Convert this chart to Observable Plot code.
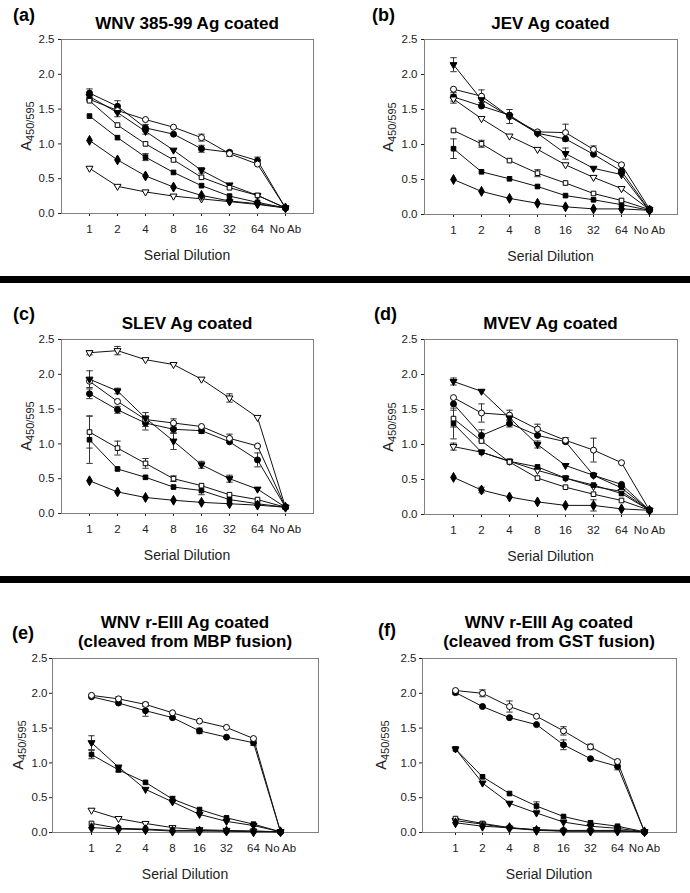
<!DOCTYPE html>
<html><head><meta charset="utf-8">
<script src="https://cdn.jsdelivr.net/npm/d3@7"></script>
<script src="https://cdn.jsdelivr.net/npm/@observablehq/plot@0.6"></script>
<style>
body{margin:0;background:#fff;}
#page{position:relative;width:690px;height:893px;overflow:hidden;font-family:"Liberation Sans",Arial,sans-serif;color:#000;}
#page svg{position:absolute;overflow:visible;}
.abs{position:absolute;white-space:nowrap;}
.title{font-weight:bold;font-size:17px;line-height:19px;text-align:center;transform:translateX(-50%);}
.plabel{font-weight:bold;font-size:18px;line-height:1;}
.xlab{font-size:14px;line-height:1;transform:translate(-50%,-50%);color:#222;}
.ylab{font-size:14.5px;line-height:1;transform:translate(-50%,-50%) rotate(-90deg);color:#222;}
.ylab sub{font-size:11px;vertical-align:baseline;position:relative;top:3px;}
.sep{position:absolute;left:0;width:690px;height:7px;background:#000;}
</style></head><body><div id="page"></div>
<script>
// ---------- data ----------
const dilutions = ["1","2","4","8","16","32","64","No Ab"];
const seriesKeys = ["fc","oc","ft","ot","fs","os","fd"];
const yTicks = [0, 0.5, 1.0, 1.5, 2.0, 2.5];

const panelA = [
  [1.73, 1.54, 1.23, 1.14, 0.93, 0.88, 0.76, 0.08],
  [1.64, 1.48, 1.35, 1.24, 1.09, 0.86, 0.71, 0.08],
  [1.68, 1.45, 1.18, 0.91, 0.62, 0.41, 0.26, 0.08],
  [0.65, 0.39, 0.31, 0.25, 0.21, 0.17, 0.13, 0.08],
  [1.40, 1.09, 0.81, 0.59, 0.40, 0.25, 0.16, 0.08],
  [1.62, 1.27, 1.00, 0.77, 0.52, 0.37, 0.26, 0.08],
  [1.05, 0.77, 0.54, 0.38, 0.26, 0.18, 0.14, 0.08]
];
const panelB = [
  [1.68, 1.55, 1.42, 1.16, 1.08, 0.86, 0.62, 0.06],
  [1.79, 1.69, 1.40, 1.18, 1.17, 0.93, 0.71, 0.08],
  [2.14, 1.64, 1.40, 1.16, 0.87, 0.66, 0.57, 0.05],
  [1.65, 1.37, 1.12, 0.93, 0.71, 0.53, 0.37, 0.07],
  [0.94, 0.61, 0.51, 0.40, 0.27, 0.21, 0.14, 0.06],
  [1.20, 1.01, 0.77, 0.59, 0.45, 0.30, 0.20, 0.07],
  [0.50, 0.33, 0.23, 0.16, 0.11, 0.08, 0.08, 0.06]
];
const panelC = [
  [1.72, 1.49, 1.30, 1.21, 1.19, 1.03, 0.77, 0.09],
  [1.90, 1.61, 1.35, 1.30, 1.25, 1.08, 0.97, 0.09],
  [1.93, 1.76, 1.37, 1.04, 0.70, 0.50, 0.35, 0.09],
  [2.31, 2.34, 2.21, 2.14, 1.93, 1.66, 1.38, 0.09],
  [1.06, 0.64, 0.52, 0.38, 0.33, 0.20, 0.14, 0.09],
  [1.17, 0.94, 0.72, 0.50, 0.40, 0.27, 0.20, 0.09],
  [0.47, 0.31, 0.23, 0.19, 0.16, 0.14, 0.12, 0.09]
];
const panelD = [
  [1.58, 1.13, 1.30, 1.13, 1.04, 0.56, 0.43, 0.06],
  [1.67, 1.45, 1.42, 1.22, 1.06, 0.92, 0.74, 0.06],
  [1.90, 1.76, 1.38, 1.00, 0.70, 0.56, 0.38, 0.06],
  [0.97, 0.89, 0.76, 0.63, 0.52, 0.40, 0.33, 0.06],
  [1.30, 0.89, 0.76, 0.68, 0.52, 0.42, 0.30, 0.06],
  [1.37, 1.05, 0.75, 0.52, 0.39, 0.29, 0.20, 0.06],
  [0.53, 0.35, 0.25, 0.18, 0.13, 0.13, 0.08, 0.06]
];
const panelE = [
  [1.95, 1.86, 1.75, 1.65, 1.46, 1.37, 1.29, 0.01],
  [1.97, 1.92, 1.84, 1.72, 1.60, 1.51, 1.35, 0.01],
  [1.29, 0.94, 0.62, 0.44, 0.26, 0.16, 0.10, 0.01],
  [0.32, 0.20, 0.13, 0.07, 0.04, 0.03, 0.02, 0.01],
  [1.12, 0.90, 0.72, 0.48, 0.33, 0.21, 0.12, 0.01],
  [0.13, 0.06, 0.05, 0.03, 0.03, 0.02, 0.02, 0.01],
  [0.07, 0.05, 0.04, 0.02, 0.02, 0.02, 0.01, 0.01]
];
const panelF = [
  [2.01, 1.81, 1.65, 1.55, 1.26, 1.06, 0.95, 0.01],
  [2.04, 2.00, 1.81, 1.67, 1.46, 1.23, 1.02, 0.01],
  [1.20, 0.71, 0.42, 0.28, 0.15, 0.09, 0.06, 0.01],
  [0.17, 0.12, 0.06, 0.04, 0.02, 0.02, 0.02, 0.01],
  [1.20, 0.80, 0.56, 0.38, 0.23, 0.14, 0.09, 0.01],
  [0.20, 0.13, 0.07, 0.04, 0.03, 0.03, 0.03, 0.01],
  [0.14, 0.09, 0.07, 0.03, 0.02, 0.02, 0.02, 0.01]
];

// error bars: [series, dilution index, +/- error]
const errA = [["fc",0,0.06],["fc",1,0.08],["fc",2,0.05],["fc",4,0.05],["fc",6,0.05],["oc",4,0.05],["oc",5,0.04],["ft",1,0.06],["ft",2,0.04],["ft",4,0.04],["fs",2,0.05]];
const errB = [["ft",0,0.10],["ft",4,0.08],["oc",1,0.09],["oc",2,0.10],["oc",4,0.12],["oc",5,0.05],["fs",0,0.14],["os",1,0.05],["os",3,0.05],["ot",0,0.06],["fc",0,0.06]];
const errC = [["ot",0,0.03],["ot",1,0.06],["ot",5,0.06],["ft",0,0.12],["ft",1,0.04],["ft",3,0.12],["ft",4,0.05],["ft",5,0.05],["fc",0,0.07],["fc",1,0.05],["fc",2,0.10],["fc",3,0.06],["fc",4,0.04],["fc",6,0.10],["oc",2,0.10],["oc",3,0.06],["oc",5,0.06],["os",0,0.23],["os",1,0.10],["os",2,0.07],["os",3,0.04],["fs",0,0.34],["fs",4,0.06]];
const errD = [["ft",0,0.05],["ft",3,0.05],["oc",1,0.13],["oc",2,0.07],["oc",3,0.07],["oc",4,0.04],["oc",5,0.17],["fc",1,0.08],["fc",2,0.05],["fs",0,0.22],["ot",0,0.05],["os",0,0.12],["fd",1,0.04],["fd",5,0.08]];
const errE = [["oc",1,0.03],["oc",2,0.03],["fc",2,0.08],["fc",4,0.04],["fc",6,0.04],["ft",0,0.10],["fs",0,0.06],["fs",1,0.03],["fs",3,0.04]];
const errF = [["oc",1,0.05],["oc",2,0.08],["oc",4,0.06],["oc",5,0.04],["fc",0,0.03],["fc",4,0.07],["fc",6,0.05],["fs",3,0.06]];

const titles = {
  a: ["WNV 385-99 Ag coated"],
  b: ["JEV Ag coated"],
  c: ["SLEV Ag coated"],
  d: ["MVEV Ag coated"],
  e: ["WNV r-EIII Ag coated", "(cleaved from MBP fusion)"],
  f: ["WNV r-EIII Ag coated", "(cleaved from GST fusion)"]
};
const xTitle = "Serial Dilution";

// ---------- styling ----------
const triDown = {draw(ctx, size) {
  const y = -Math.sqrt(size / (Math.sqrt(3) * 3));
  ctx.moveTo(0, -y * 2); ctx.lineTo(-Math.sqrt(3) * y, y); ctx.lineTo(Math.sqrt(3) * y, y); ctx.closePath();
}};
const capSym = {draw(ctx) { ctx.moveTo(-3.2, 0); ctx.lineTo(3.2, 0); }};
const markerStyle = {
  fc: {symbol: "circle", fill: "#000", r: 3.0},
  oc: {symbol: "circle", fill: "#fff", r: 3.0},
  ft: {symbol: triDown, fill: "#000", r: 2.6},
  ot: {symbol: triDown, fill: "#fff", r: 2.6},
  fs: {symbol: "square", fill: "#000", r: 2.6},
  os: {symbol: "square", fill: "#fff", r: 2.6},
  fd: {symbol: "diamond", fill: "#000", r: 3.0}
};

// layout: plot-area boxes in page pixels
const layout = [
  {id: "a", data: panelA, err: errA, x0: 61, x1: 313, y0: 39, y1: 213, pad: 1.0, labX: 13, labY: 6, titleTop: 14, yLabX: 26, yPad: 4},
  {id: "b", data: panelB, err: errB, x0: 424, x1: 677, y0: 39, y1: 214, pad: 1.0, labX: 372, labY: 6, titleTop: 14, yLabX: 388, yPad: 4},
  {id: "c", data: panelC, err: errC, x0: 61, x1: 313, y0: 339, y1: 513, pad: 1.0, labX: 13, labY: 305, titleTop: 314, yLabX: 26, yPad: 4},
  {id: "d", data: panelD, err: errD, x0: 424, x1: 677, y0: 339, y1: 514, pad: 1.0, labX: 374, labY: 305, titleTop: 314, yLabX: 388, yPad: 4},
  {id: "e", data: panelE, err: errE, x0: 52, x1: 318, y0: 658, y1: 832, pad: 1.3, labX: 12, labY: 624, titleTop: 613, yLabX: 18, yPad: 2},
  {id: "f", data: panelF, err: errF, x0: 422, x1: 676, y0: 658, y1: 832, pad: 1.07, labX: 378, labY: 621, titleTop: 613, yLabX: 381, yPad: 3}
];

const page = document.getElementById("page");
function addDiv(cls, html, left, top) {
  const d = document.createElement("div");
  d.className = "abs " + cls;
  d.innerHTML = html;
  d.style.left = left + "px";
  d.style.top = top + "px";
  page.appendChild(d);
  return d;
}

for (const p of layout) {
  const rows = [];
  p.data.forEach((vals, si) => vals.forEach((v, i) => rows.push({s: seriesKeys[si], x: dilutions[i], y: v})));
  const errRows = p.err.map(([s, i, e]) => {
    const v = p.data[seriesKeys.indexOf(s)][i];
    return {s, x: dilutions[i], lo: v - e, hi: v + e};
  });
  const svgLeft = p.x0 < 345 ? 0 : 345;
  const svgTop = p.y0 - 9;
  const W = 345;
  const mL = p.x0 - svgLeft, mR = svgLeft + W - p.x1;
  const plotH = p.y1 - p.y0;
  const chart = Plot.plot({
    width: W,
    height: plotH + 9 + 50,
    marginLeft: mL, marginRight: mR, marginTop: 9, marginBottom: 50,
    style: {fontFamily: "'Liberation Sans', Arial, sans-serif", fontSize: "11.5px", color: "#222", background: "transparent"},
    x: {type: "point", domain: dilutions, padding: p.pad, tickSize: 3, tickPadding: 8, label: null},
    y: {domain: [0, 2.5], ticks: yTicks, tickFormat: d3.format(".1f"), tickSize: 3, tickPadding: p.yPad, label: null},
    marks: [
      Plot.frame({stroke: "#808080"}),
      Plot.line(rows, {x: "x", y: "y", z: "s", stroke: "#111", strokeWidth: 1}),
      Plot.ruleX(errRows, {x: "x", y1: "lo", y2: "hi", stroke: "#333", strokeWidth: 1}),
      Plot.dot(errRows, {x: "x", y: "hi", symbol: capSym, stroke: "#333", fill: "none", strokeWidth: 1}),
      Plot.dot(errRows, {x: "x", y: "lo", symbol: capSym, stroke: "#333", fill: "none", strokeWidth: 1}),
      ...seriesKeys.map(k => Plot.dot(rows.filter(d => d.s === k), {
        x: "x", y: "y", symbol: markerStyle[k].symbol, r: markerStyle[k].r,
        fill: markerStyle[k].fill, stroke: "#000", strokeWidth: 1
      }))
    ]
  });
  chart.style.left = svgLeft + "px";
  chart.style.top = svgTop + "px";
  page.appendChild(chart);

  const cx = (p.x0 + p.x1) / 2;
  addDiv("plabel", "(" + p.id + ")", p.labX, p.labY);
  addDiv("title", titles[p.id].join("<br>"), cx, p.titleTop);
  addDiv("xlab", xTitle, cx, p.y1 + 42);
  addDiv("ylab", "A<sub>450/595</sub>", p.yLabX, (p.y0 + p.y1) / 2);
}

for (const t of [276, 576]) {
  const s = document.createElement("div");
  s.className = "sep";
  s.style.top = t + "px";
  page.appendChild(s);
}
</script></body></html>
